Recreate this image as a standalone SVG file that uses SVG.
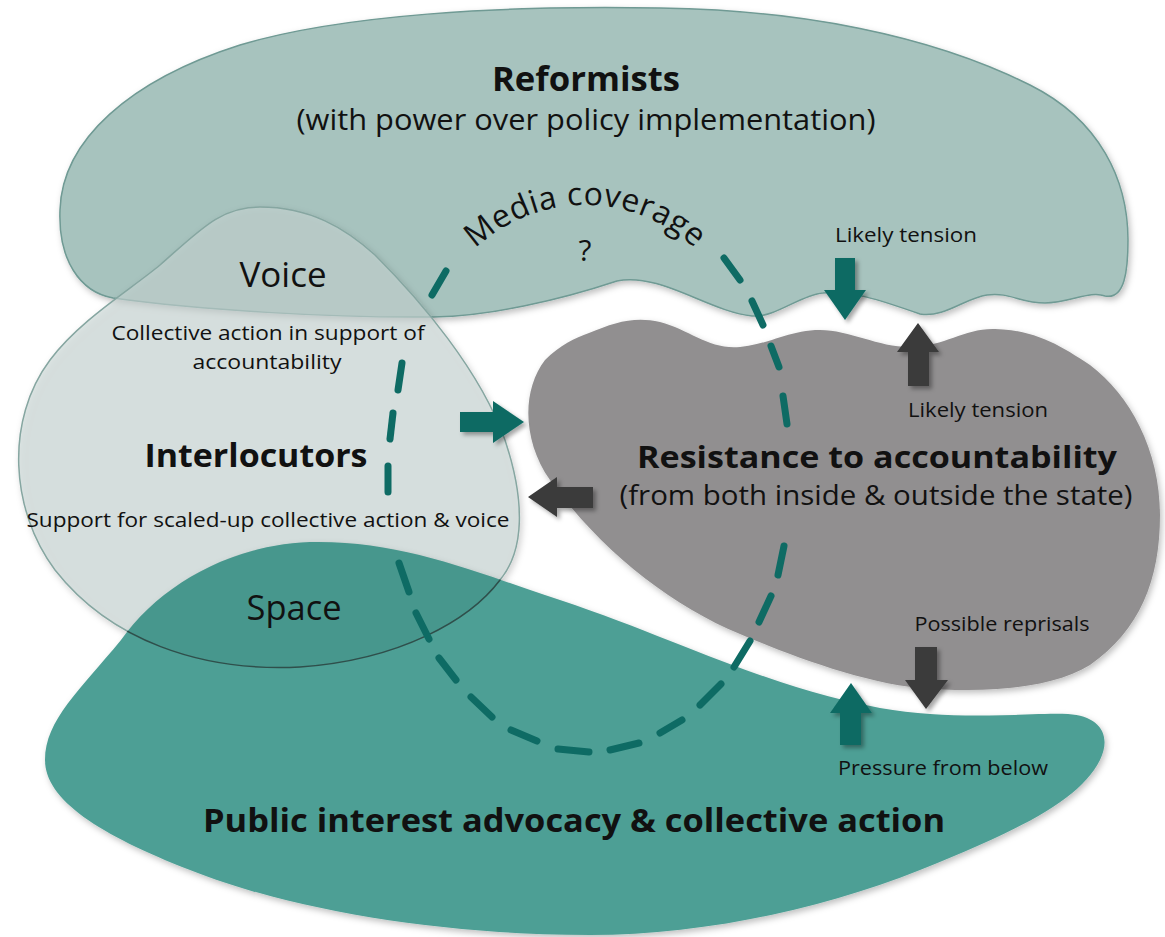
<svg xmlns="http://www.w3.org/2000/svg" xmlns:xlink="http://www.w3.org/1999/xlink" width="1165" height="937" viewBox="0 0 1165 937">
<style>
  text { font-family: "Open Sans", "Noto Sans", "Liberation Sans", sans-serif; fill: #111; }
  .b { font-weight: 700; }
  .small { font-size: 20px; }
  .dash line { stroke: #0e6b64; stroke-width: 7; stroke-linecap: round; fill: none; }
  .teal { fill: #0e6b64; filter: url(#ashadow); }
  .dark { fill: #3a3a3a; filter: url(#ashadow); }
</style>
<defs>
  <filter id="bshadow" x="-10%" y="-10%" width="120%" height="125%">
    <feDropShadow dx="2" dy="3" stdDeviation="3" flood-color="#000" flood-opacity="0.25"/>
  </filter>
  <filter id="ashadow" x="-30%" y="-30%" width="170%" height="170%">
    <feDropShadow dx="3" dy="3" stdDeviation="2" flood-color="#000" flood-opacity="0.35"/>
  </filter>
  <path id="interPath" d="M 260,207 C 310,207 345,228 375,255 C 420,300 480,370 505,440 C 525,500 525,550 500,580 C 470,620 400,660 300,667 C 200,672 110,640 55,570 C 10,510 5,420 50,360 C 80,320 130,290 160,265 C 200,230 220,207 260,207 Z"/>
  <path id="pubPath" d="M 121,640 C 160,585 230,545 310,542 C 400,540 470,570 560,600 C 680,640 760,685 880,708 C 960,722 1030,712 1068,714 C 1100,716 1112,735 1100,760 C 1080,800 1020,830 920,870 C 820,910 700,935 590,935 C 440,935 290,910 190,870 C 100,835 45,800 45,760 C 45,720 80,690 121,640 Z"/>
  <clipPath id="pubClip"><use xlink:href="#pubPath"/></clipPath>
  <path id="mediaArc" d="M 425,365 A 160,160 0 0 1 745,365"/>
</defs>
<rect width="1165" height="937" fill="#ffffff"/>

<g id="reformists">
  <path d="M 113,298 C 200,310 330,318 433,317 C 490,316 560,300 617,281 C 660,272 710,312 752,316 C 775,318 800,295 823,293 C 850,290 880,300 920,314 C 945,318 965,298 987,295 C 1010,292 1020,303 1045,303 C 1070,303 1090,290 1105,296 C 1125,300 1128,270 1128,240 C 1128,180 1100,120 1030,85 C 930,35 800,10 660,8 C 500,5 340,15 240,45 C 130,80 62,140 60,210 C 58,260 80,292 113,298 Z" fill="#a7c3be" stroke="#6f9a94" stroke-width="1.5" filter="url(#bshadow)"/>
  <text class="b" x="586" y="91" font-size="34" text-anchor="middle" textLength="188" lengthAdjust="spacingAndGlyphs">Reformists</text>
  <text x="586" y="130" font-size="29" text-anchor="middle" textLength="579" lengthAdjust="spacingAndGlyphs">(with power over policy implementation)</text>
</g>

<g id="interlocutors">
  <use xlink:href="#interPath" fill="#c8d6d4" fill-opacity="0.6" stroke="#86a6a1" stroke-width="1.5" filter="url(#bshadow)"/>
</g>

<g id="public">
  <use xlink:href="#pubPath" fill="#4e9f95" filter="url(#bshadow)"/>
  <g clip-path="url(#pubClip)">
    <use xlink:href="#interPath" fill="#1d5f57" fill-opacity="0.12" stroke="#2f4f4b" stroke-width="1.5"/>
  </g>
</g>

<g id="resistance">
  <path d="M 589,333 C 615,322 635,316 660,322 C 690,330 710,350 740,347 C 770,344 790,330 820,330 C 850,330 880,348 912,347 C 945,346 965,328 995,329 C 1035,330 1060,345 1090,365 C 1130,395 1160,450 1160,515 C 1160,580 1140,630 1090,665 C 1050,690 980,693 920,688 C 860,682 790,655 740,634 C 670,605 600,550 550,480 C 522,440 522,390 545,360 C 560,345 575,338 589,333 Z" fill="#918f90" filter="url(#bshadow)"/>
</g>

<g id="media-coverage" class="dash">
  <line x1="446" y1="271" x2="432" y2="295"/>
  <line x1="402" y1="363" x2="398" y2="390"/>
  <line x1="393" y1="413" x2="390" y2="439"/>
  <line x1="388" y1="466" x2="388" y2="492"/>
  <line x1="399" y1="563" x2="409" y2="592"/>
  <line x1="416" y1="613" x2="429" y2="639"/>
  <line x1="439" y1="658" x2="456" y2="680"/>
  <line x1="471" y1="697" x2="492" y2="717"/>
  <line x1="511" y1="730" x2="537" y2="741"/>
  <line x1="558" y1="749" x2="589" y2="752"/>
  <line x1="610" y1="750" x2="639" y2="743"/>
  <line x1="660" y1="733" x2="682" y2="720"/>
  <line x1="700" y1="705" x2="721" y2="684"/>
  <line x1="734" y1="667" x2="750" y2="641"/>
  <line x1="759" y1="622" x2="771" y2="596"/>
  <line x1="778" y1="575" x2="784" y2="546"/>
  <line x1="724" y1="258" x2="740" y2="280"/>
  <line x1="752" y1="301" x2="763" y2="325"/>
  <line x1="771" y1="346" x2="779" y2="367"/>
  <line x1="783" y1="396" x2="787" y2="424"/>
  <text font-size="32" letter-spacing="0.5"><textPath xlink:href="#mediaArc" startOffset="50%" text-anchor="middle">Media coverage</textPath></text>
  <text x="585" y="261" font-size="30" text-anchor="middle">?</text>
</g>

<g id="connectors">
  <polygon class="teal" points="835,258 855,258 855,290 866,290 845,320 824,290 835,290"/>
  <polygon class="dark" points="918,323 939,352 929,352 929,386 908,386 908,352 897,352"/>
  <polygon class="teal" points="460,412 493,412 493,401 524,422 493,443 493,432 460,432"/>
  <polygon class="dark" points="528,497 557,477 557,487 593,487 593,508 557,508 557,517"/>
  <polygon class="dark" points="915,647 937,647 937,680 948,680 926,709 905,680 915,680"/>
  <polygon class="teal" points="851,683 872,713 861,713 861,745 840,745 840,713 830,713"/>
</g>

<g id="labels">
  <text x="283" y="287" font-size="34" text-anchor="middle" textLength="87" lengthAdjust="spacingAndGlyphs">Voice</text>
  <text class="small" x="268" y="340" text-anchor="middle" textLength="313" lengthAdjust="spacingAndGlyphs">Collective action in support of</text>
  <text class="small" x="267" y="369" text-anchor="middle" textLength="149" lengthAdjust="spacingAndGlyphs">accountability</text>
  <text class="b" x="256" y="467" font-size="32" text-anchor="middle" textLength="223" lengthAdjust="spacingAndGlyphs">Interlocutors</text>
  <text class="small" x="268" y="527" text-anchor="middle" textLength="483" lengthAdjust="spacingAndGlyphs">Support for scaled-up collective action &amp; voice</text>
  <text x="294" y="620" font-size="34" text-anchor="middle" textLength="95" lengthAdjust="spacingAndGlyphs">Space</text>
  <text class="small" x="906" y="242" text-anchor="middle" textLength="142" lengthAdjust="spacingAndGlyphs">Likely tension</text>
  <text class="small" x="978" y="417" text-anchor="middle" textLength="140" lengthAdjust="spacingAndGlyphs">Likely tension</text>
  <text class="b" x="877" y="468" font-size="31" text-anchor="middle" textLength="480" lengthAdjust="spacingAndGlyphs">Resistance to accountability</text>
  <text x="876" y="505" font-size="28" text-anchor="middle" textLength="513" lengthAdjust="spacingAndGlyphs">(from both inside &amp; outside the state)</text>
  <text class="small" x="1002" y="631" text-anchor="middle" textLength="175" lengthAdjust="spacingAndGlyphs">Possible reprisals</text>
  <text class="small" x="943" y="775" text-anchor="middle" textLength="210" lengthAdjust="spacingAndGlyphs">Pressure from below</text>
  <text class="b" x="574" y="832" font-size="33" text-anchor="middle" textLength="742" lengthAdjust="spacingAndGlyphs">Public interest advocacy &amp; collective action</text>
</g>
</svg>
